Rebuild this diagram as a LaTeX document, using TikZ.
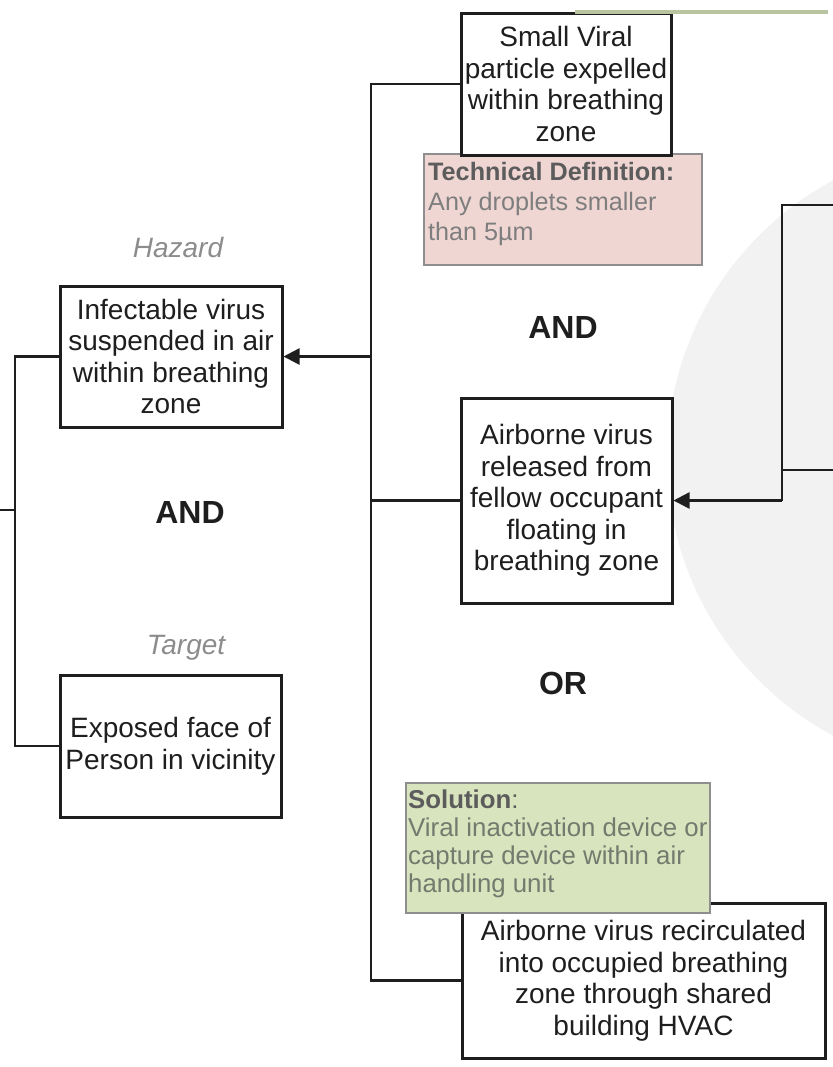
\documentclass[tikz,border=0pt]{standalone}
\usepackage{fontspec}
\setmainfont{Liberation Sans}
\usetikzlibrary{arrows.meta}

\definecolor{ink}{HTML}{1E1E1E}
\definecolor{tagGray}{HTML}{8C8C8C}
\definecolor{haloGray}{HTML}{F2F2F2}
\definecolor{defFill}{HTML}{EFD6D3}
\definecolor{solFill}{HTML}{D7E4BD}
\definecolor{noteEdge}{HTML}{8E8E8E}
\definecolor{noteHead}{HTML}{5C5C5C}
\definecolor{noteBody}{HTML}{7E7E7E}
\definecolor{solBody}{HTML}{737A6E}
\definecolor{topEdge}{HTML}{B9C4A2}

\begin{document}
\begin{tikzpicture}[x=0.5pt,y=-0.5pt,
  box/.style={draw=ink, line width=1.5pt, fill=white, align=center,
    inner sep=0pt, text=ink, font=\fontsize{14}{15.75}\selectfont},
  notebox/.style={draw=noteEdge, line width=1.2pt, inner sep=0pt},
  notetext/.style={align=left, inner sep=0pt, anchor=north west},
  conn/.style={draw=ink, line width=1.25pt},
  arrow/.style={conn, -{Triangle[length=8pt,width=8pt]}},
  tag/.style={text=tagGray, font=\fontsize{14}{16}\selectfont\itshape},
  gate/.style={text=ink, font=\fontsize{16}{18}\selectfont\bfseries}
]
\useasboundingbox (0,0) rectangle (833,1067);

% pale background disc on the right
\begin{scope}
  \clip (0,0) rectangle (833,1067);
  \fill[haloGray] (982,458) circle (157.5pt);
\end{scope}

% bus lines
\coordinate (bus) at (371,0);
\coordinate (lbus) at (15,0);
\coordinate (rbus) at (782,0);
\coordinate (stubL) at (0,510);
\coordinate (rTop) at (833,205);
\coordinate (rMid) at (833,470);

% notes (drawn beneath the boxes they touch)
\node[notebox, fill=defFill, minimum width=139pt, minimum height=55.5pt] (tech) at (563,209.5) {};
\node[notetext, text=noteBody, font=\fontsize{12.6}{15}\selectfont]
  (techTxt) at ([xshift=2.5pt,yshift=-4.5pt]tech.north west)
  {\textcolor{noteHead}{\bfseries Technical Definition:}\\Any droplets smaller\\than 5µm};

% boxes
\node[box, minimum width=105pt, minimum height=71pt] (b1) at (566,84)
  {Small Viral\\particle expelled\\within breathing\\zone};
\node[box, minimum width=111pt, minimum height=70.5pt] (haz) at (171,356.5)
  {Infectable virus\\suspended in air\\within breathing\\zone};
\node[box, minimum width=110.5pt, minimum height=71pt] (tgt) at (170.5,746)
  {Exposed face of\\Person in vicinity};
\node[box, minimum width=105.5pt, minimum height=102.5pt] (airb) at (566.5,500.5)
  {Airborne virus\\released from\\fellow occupant\\floating in\\breathing zone};
\node[box, minimum width=181.5pt, minimum height=77.5pt] (hvac) at (643.5,980.5)
  {Airborne virus recirculated\\into occupied breathing\\zone through shared\\building HVAC};

\node[notebox, fill=solFill, minimum width=152pt, minimum height=65pt] (sol) at (558,848) {};
\node[notetext, text=solBody, font=\fontsize{12.9}{14}\selectfont]
  (solTxt) at ([xshift=1.5pt,yshift=-4pt]sol.north west)
  {\textcolor{noteHead}{\bfseries Solution}\textcolor{noteHead}{:}\\Viral inactivation device or\\capture device within air\\handling unit};

% edge of a neighbouring block along the top
\draw[topEdge, line width=2pt] (575,11.5) -- (828,11.5);

% labels
\node[tag] (hazLbl) at (178,247) {Hazard};
\node[tag] (tgtLbl) at (186,648) {Target};
\node[gate] (and1) at (190,512) {AND};
\node[gate] (and2) at (563,327) {AND};
\node[gate] (or1) at (563,683) {OR};

% connectors
\draw[conn] (b1.west) -- (b1.west -| bus) -- (hvac.west -| bus) -- (hvac.west);
\draw[conn] (airb.west -| bus) -- (airb.west);
\draw[arrow] (haz.east -| bus) -- (haz.east);

\draw[conn] (haz.west) -- (haz.west -| lbus) -- (tgt.west -| lbus) -- (tgt.west);
\draw[conn] (stubL) -- (stubL -| lbus);

\draw[conn] (rTop) -- (rTop -| rbus) -- (airb.east -| rbus);
\draw[arrow] (airb.east -| rbus) -- (airb.east);
\draw[conn] (rMid) -- (rMid -| rbus);
\end{tikzpicture}
\end{document}
